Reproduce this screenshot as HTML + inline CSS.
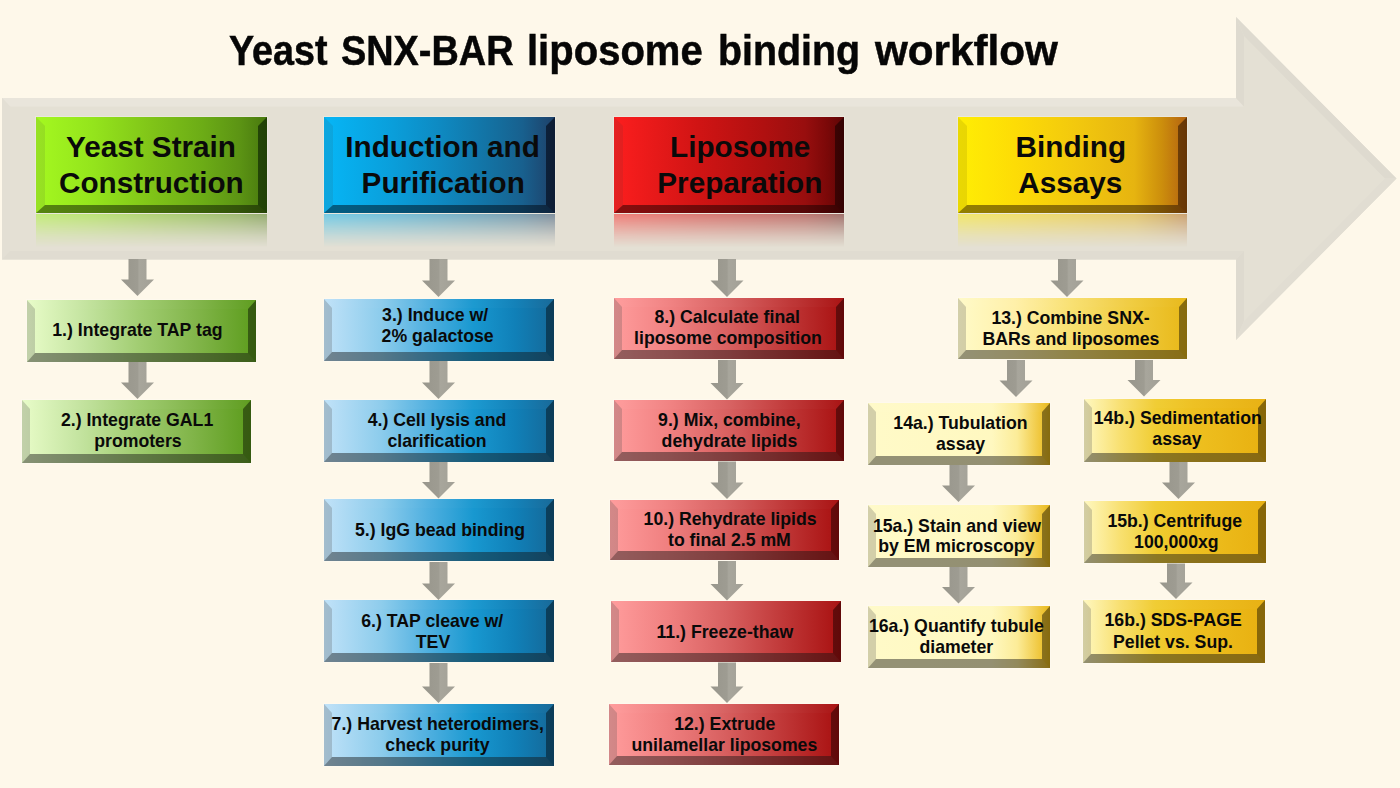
<!DOCTYPE html>
<html><head><meta charset="utf-8"><title>Yeast SNX-BAR liposome binding workflow</title>
<style>
*{margin:0;padding:0;box-sizing:border-box}
html,body{width:1400px;height:788px;overflow:hidden;background:#FEF8EA}
body{position:relative;font-family:"Liberation Sans",sans-serif;}
.title{position:absolute;white-space:nowrap;font-family:"Liberation Sans",sans-serif;font-weight:bold;color:#060606;-webkit-text-stroke:0.5px #060606;transform-origin:0 0}
.box{position:absolute;border-style:solid;background-origin:border-box;background-clip:border-box;box-shadow:0 0 0 1px rgba(255,255,255,0.22)}
.tl{position:absolute;font-weight:bold;color:#0a0a0a;white-space:nowrap}
.refl{position:absolute;-webkit-mask-image:linear-gradient(to bottom,rgba(0,0,0,0.5),rgba(0,0,0,0.3) 35%,rgba(0,0,0,0.13) 68%,rgba(0,0,0,0) 100%);mask-image:linear-gradient(to bottom,rgba(0,0,0,0.5),rgba(0,0,0,0.3) 35%,rgba(0,0,0,0.13) 68%,rgba(0,0,0,0) 100%)}
svg{position:absolute;left:0;top:0}
</style></head><body>
<svg width="1400" height="788" viewBox="0 0 1400 788">
<polygon points="2,98 1236,98 1236,17 1396.5,178.5 1236,340 1236,259.5 2,259.5" fill="#E4E0D4"/>
<polygon points="2,98 1236,98 1244,106.5 10,106.5" fill="#E9E5DB"/>
<polygon points="2,98 10,106.5 10,251 2,259.5" fill="#E3DFD4"/>
<polygon points="2,259.5 10,251 1244,251 1236,259.5" fill="#E0DCD1"/>
<polygon points="1236,17 1244,36 1244,106.5 1236,98" fill="#DEDACF"/>
<polygon points="1236,17 1396.5,178.5 1385,178.5 1244,36" fill="#DEDACF"/>
<polygon points="1236,259.5 1244,251 1244,321 1236,340" fill="#DEDACF"/>
<polygon points="1236,340 1244,321 1385,178.5 1396.5,178.5" fill="#E1DDD2"/>
</svg>
<div class="title" style="font-size:42.5px;line-height:50px;left:228.80px;top:26px;transform:scaleX(0.8872)">Yeast</div>
<div class="title" style="font-size:42.5px;line-height:50px;left:341.30px;top:26px;transform:scaleX(0.8911)">SNX-BAR</div>
<div class="title" style="font-size:42.5px;line-height:50px;left:527.40px;top:26px;transform:scaleX(0.9417)">liposome</div>
<div class="title" style="font-size:42.5px;line-height:50px;left:718.10px;top:26px;transform:scaleX(0.9262)">binding</div>
<div class="title" style="font-size:42.5px;line-height:50px;left:875.41px;top:26px;transform:scaleX(0.9932)">workflow</div>
<div class="refl" style="left:36px;top:214px;width:230.5px;height:33px;background:linear-gradient(to right,#A4F820 0%, #94E41C 25%, #80C418 50%, #6CAC16 72%, #5C9414 88%, #48780E 100%)"></div>
<div class="box" style="left:36px;top:117px;width:230.50px;height:96.00px;border-width:9px 9px 8px 9px;border-color:rgba(255,255,255,0.0) rgba(0,20,0,0.55) rgba(10,20,0,0.5) rgba(60,60,60,0.12);background-image:linear-gradient(to right,#A4F820 0%, #94E41C 25%, #80C418 50%, #6CAC16 72%, #5C9414 88%, #48780E 100%)"></div>
<div class="refl" style="left:324px;top:214px;width:231px;height:33px;background:linear-gradient(to right,#06B6F6 0%, #0A9EDA 30%, #0E8AC2 50%, #146E9E 75%, #18608E 86%, #1E4068 100%)"></div>
<div class="box" style="left:324px;top:117px;width:231.00px;height:96.00px;border-width:9px 9px 8px 9px;border-color:rgba(255,255,255,0.0) rgba(0,0,10,0.55) rgba(0,10,20,0.5) rgba(60,60,60,0.12);background-image:linear-gradient(to right,#06B6F6 0%, #0A9EDA 30%, #0E8AC2 50%, #146E9E 75%, #18608E 86%, #1E4068 100%)"></div>
<div class="refl" style="left:613.5px;top:214px;width:230.0px;height:33px;background:linear-gradient(to right,#FC1E1E 0%, #D01414 37%, #B01010 65%, #980E0E 83%, #7A0808 93%, #5C0606 100%)"></div>
<div class="box" style="left:613.5px;top:117px;width:230.00px;height:96.00px;border-width:9px 9px 8px 9px;border-color:rgba(255,255,255,0.0) rgba(20,0,0,0.55) rgba(20,0,0,0.5) rgba(60,60,60,0.12);background-image:linear-gradient(to right,#FC1E1E 0%, #D01414 37%, #B01010 65%, #980E0E 83%, #7A0808 93%, #5C0606 100%)"></div>
<div class="refl" style="left:958px;top:214px;width:229px;height:33px;background:linear-gradient(to right,#FFEE04 0%, #FDDC06 25%, #F2C80E 52%, #E6B410 77%, #CC8E0C 89%, #B86A10 98%, #B06410 100%)"></div>
<div class="box" style="left:958px;top:117px;width:229.00px;height:96.00px;border-width:9px 9px 8px 9px;border-color:rgba(255,255,255,0.0) rgba(30,10,0,0.5) rgba(40,20,0,0.5) rgba(80,60,0,0.12);background-image:linear-gradient(to right,#FFEE04 0%, #FDDC06 25%, #F2C80E 52%, #E6B410 77%, #CC8E0C 89%, #B86A10 98%, #B06410 100%)"></div>
<div class="box" style="left:27px;top:299.5px;width:229.00px;height:62.00px;border-width:9px 8px 9px 8px;border-color:rgba(255,255,255,0.02) rgba(0,0,0,0.42) rgba(20,20,20,0.45) rgba(80,80,80,0.25);background-image:linear-gradient(to right,#E8FCC8 0%, #C4E4A0 25%, #A0CC70 50%, #80B448 75%, #5C9C1C 100%)"></div>
<div class="box" style="left:21.5px;top:400px;width:229.50px;height:63.00px;border-width:9px 8px 9px 8px;border-color:rgba(255,255,255,0.02) rgba(0,0,0,0.42) rgba(20,20,20,0.45) rgba(80,80,80,0.25);background-image:linear-gradient(to right,#E8FCC8 0%, #C4E4A0 25%, #A0CC70 50%, #80B448 75%, #5C9C1C 100%)"></div>
<div class="box" style="left:324px;top:299.3px;width:229.50px;height:61.40px;border-width:9px 8px 9px 8px;border-color:rgba(255,255,255,0.02) rgba(0,0,0,0.42) rgba(20,20,20,0.45) rgba(80,80,80,0.25);background-image:linear-gradient(to right,#C0E2F8 0%, #8CCCEC 25%, #50B0E0 45%, #1898D0 65%, #1080B8 83%, #156898 100%)"></div>
<div class="box" style="left:324px;top:400px;width:229.50px;height:61.50px;border-width:9px 8px 9px 8px;border-color:rgba(255,255,255,0.02) rgba(0,0,0,0.42) rgba(20,20,20,0.45) rgba(80,80,80,0.25);background-image:linear-gradient(to right,#C0E2F8 0%, #8CCCEC 25%, #50B0E0 45%, #1898D0 65%, #1080B8 83%, #156898 100%)"></div>
<div class="box" style="left:324px;top:498.7px;width:229.50px;height:62.50px;border-width:9px 8px 9px 8px;border-color:rgba(255,255,255,0.02) rgba(0,0,0,0.42) rgba(20,20,20,0.45) rgba(80,80,80,0.25);background-image:linear-gradient(to right,#C0E2F8 0%, #8CCCEC 25%, #50B0E0 45%, #1898D0 65%, #1080B8 83%, #156898 100%)"></div>
<div class="box" style="left:324px;top:600.3px;width:229.50px;height:62.20px;border-width:9px 8px 9px 8px;border-color:rgba(255,255,255,0.02) rgba(0,0,0,0.42) rgba(20,20,20,0.45) rgba(80,80,80,0.25);background-image:linear-gradient(to right,#C0E2F8 0%, #8CCCEC 25%, #50B0E0 45%, #1898D0 65%, #1080B8 83%, #156898 100%)"></div>
<div class="box" style="left:324px;top:703.6px;width:229.50px;height:62.70px;border-width:9px 8px 9px 8px;border-color:rgba(255,255,255,0.02) rgba(0,0,0,0.42) rgba(20,20,20,0.45) rgba(80,80,80,0.25);background-image:linear-gradient(to right,#C0E2F8 0%, #8CCCEC 25%, #50B0E0 45%, #1898D0 65%, #1080B8 83%, #156898 100%)"></div>
<div class="box" style="left:614px;top:297.5px;width:229.50px;height:61.80px;border-width:9px 8px 9px 8px;border-color:rgba(255,255,255,0.02) rgba(0,0,0,0.42) rgba(20,20,20,0.45) rgba(80,80,80,0.25);background-image:linear-gradient(to right,#FF9C9C 0%, #F08080 25%, #D86060 50%, #C03838 75%, #A81010 100%)"></div>
<div class="box" style="left:614px;top:399.9px;width:229.50px;height:61.40px;border-width:9px 8px 9px 8px;border-color:rgba(255,255,255,0.02) rgba(0,0,0,0.42) rgba(20,20,20,0.45) rgba(80,80,80,0.25);background-image:linear-gradient(to right,#FF9C9C 0%, #F08080 25%, #D86060 50%, #C03838 75%, #A81010 100%)"></div>
<div class="box" style="left:609.5px;top:499.8px;width:229.00px;height:60.70px;border-width:9px 8px 9px 8px;border-color:rgba(255,255,255,0.02) rgba(0,0,0,0.42) rgba(20,20,20,0.45) rgba(80,80,80,0.25);background-image:linear-gradient(to right,#FF9C9C 0%, #F08080 25%, #D86060 50%, #C03838 75%, #A81010 100%)"></div>
<div class="box" style="left:611px;top:601.2px;width:229.50px;height:61.30px;border-width:9px 8px 9px 8px;border-color:rgba(255,255,255,0.02) rgba(0,0,0,0.42) rgba(20,20,20,0.45) rgba(80,80,80,0.25);background-image:linear-gradient(to right,#FF9C9C 0%, #F08080 25%, #D86060 50%, #C03838 75%, #A81010 100%)"></div>
<div class="box" style="left:609px;top:703.6px;width:229.50px;height:61.20px;border-width:9px 8px 9px 8px;border-color:rgba(255,255,255,0.02) rgba(0,0,0,0.42) rgba(20,20,20,0.45) rgba(80,80,80,0.25);background-image:linear-gradient(to right,#FF9C9C 0%, #F08080 25%, #D86060 50%, #C03838 75%, #A81010 100%)"></div>
<div class="box" style="left:957.5px;top:297.6px;width:229.00px;height:61.80px;border-width:9px 8px 9px 8px;border-color:rgba(255,255,255,0.02) rgba(0,0,0,0.42) rgba(20,20,20,0.45) rgba(80,80,80,0.25);background-image:linear-gradient(to right,#FFFAC8 0%, #FFF0A8 25%, #F8E070 50%, #F0CC40 75%, #E8B818 100%)"></div>
<div class="box" style="left:868px;top:403.1px;width:181.50px;height:62.10px;border-width:9px 8px 9px 8px;border-color:rgba(255,255,255,0.02) rgba(0,0,0,0.42) rgba(20,20,20,0.45) rgba(80,80,80,0.25);background-image:linear-gradient(to right,#FFFAC8 0%, #FFF8C0 68%, #FCEC98 82%, #F0C840 94%, #E8B818 100%)"></div>
<div class="box" style="left:1084.2px;top:398.7px;width:182.30px;height:62.90px;border-width:9px 8px 9px 8px;border-color:rgba(255,255,255,0.02) rgba(0,0,0,0.42) rgba(20,20,20,0.45) rgba(80,80,80,0.25);background-image:linear-gradient(to right,#FFF8C0 0%, #F8E070 20%, #F0CC30 40%, #EEC020 60%, #E8B010 100%)"></div>
<div class="box" style="left:868px;top:505.4px;width:182.00px;height:61.40px;border-width:9px 8px 9px 8px;border-color:rgba(255,255,255,0.02) rgba(0,0,0,0.42) rgba(20,20,20,0.45) rgba(80,80,80,0.25);background-image:linear-gradient(to right,#FFFAC8 0%, #FFF8C0 68%, #FCEC98 82%, #F0C840 94%, #E8B818 100%)"></div>
<div class="box" style="left:1084.2px;top:500.9px;width:182.30px;height:62.50px;border-width:9px 8px 9px 8px;border-color:rgba(255,255,255,0.02) rgba(0,0,0,0.42) rgba(20,20,20,0.45) rgba(80,80,80,0.25);background-image:linear-gradient(to right,#FFF8C0 0%, #F8E070 20%, #F0CC30 40%, #EEC020 60%, #E8B010 100%)"></div>
<div class="box" style="left:868px;top:605.9px;width:182.00px;height:62.50px;border-width:9px 8px 9px 8px;border-color:rgba(255,255,255,0.02) rgba(0,0,0,0.42) rgba(20,20,20,0.45) rgba(80,80,80,0.25);background-image:linear-gradient(to right,#FFFAC8 0%, #FFF8C0 68%, #FCEC98 82%, #F0C840 94%, #E8B818 100%)"></div>
<div class="box" style="left:1082.5px;top:600px;width:182.00px;height:62.50px;border-width:9px 8px 9px 8px;border-color:rgba(255,255,255,0.02) rgba(0,0,0,0.42) rgba(20,20,20,0.45) rgba(80,80,80,0.25);background-image:linear-gradient(to right,#FFF8C0 0%, #F8E070 20%, #F0CC30 40%, #EEC020 60%, #E8B010 100%)"></div>
<svg width="1400" height="788" viewBox="0 0 1400 788">
<defs><linearGradient id="ag" x1="0" x2="1" y1="0" y2="0"><stop offset="0" stop-color="#98968C"/><stop offset="0.5" stop-color="#9E9C92"/><stop offset="0.55" stop-color="#A8A69C"/><stop offset="1" stop-color="#A2A096"/></linearGradient></defs>
<polygon points="128.5,259 146.5,259 146.5,279.5 154.0,279.5 137.5,296 121.0,279.5 128.5,279.5" fill="url(#ag)"/>
<polygon points="128.5,362 146.5,362 146.5,382.5 154.0,382.5 137.5,399 121.0,382.5 128.5,382.5" fill="url(#ag)"/>
<polygon points="429.5,259 447.5,259 447.5,280.5 455.0,280.5 438.5,297 422.0,280.5 429.5,280.5" fill="url(#ag)"/>
<polygon points="429.5,361 447.5,361 447.5,382.5 455.0,382.5 438.5,399 422.0,382.5 429.5,382.5" fill="url(#ag)"/>
<polygon points="429.5,462 447.5,462 447.5,482.0 455.0,482.0 438.5,498.5 422.0,482.0 429.5,482.0" fill="url(#ag)"/>
<polygon points="429.5,562 447.5,562 447.5,583.5 455.0,583.5 438.5,600 422.0,583.5 429.5,583.5" fill="url(#ag)"/>
<polygon points="429.5,663 447.5,663 447.5,686.5 455.0,686.5 438.5,703 422.0,686.5 429.5,686.5" fill="url(#ag)"/>
<polygon points="718,259 736,259 736,280.5 743.5,280.5 727,297 710.5,280.5 718,280.5" fill="url(#ag)"/>
<polygon points="718,360 736,360 736,383.0 743.5,383.0 727,399.5 710.5,383.0 718,383.0" fill="url(#ag)"/>
<polygon points="718,461.5 736,461.5 736,482.5 743.5,482.5 727,499 710.5,482.5 718,482.5" fill="url(#ag)"/>
<polygon points="718,561 736,561 736,584.0 743.5,584.0 727,600.5 710.5,584.0 718,584.0" fill="url(#ag)"/>
<polygon points="718,662.5 736,662.5 736,686.5 743.5,686.5 727,703 710.5,686.5 718,686.5" fill="url(#ag)"/>
<polygon points="1058,259 1076,259 1076,280.5 1083.5,280.5 1067,297 1050.5,280.5 1058,280.5" fill="url(#ag)"/>
<polygon points="1007,360 1025,360 1025,380.5 1032.5,380.5 1016,397 999.5,380.5 1007,380.5" fill="url(#ag)"/>
<polygon points="1135,360 1153,360 1153,380.0 1160.5,380.0 1144,396.5 1127.5,380.0 1135,380.0" fill="url(#ag)"/>
<polygon points="949.5,465 967.5,465 967.5,485.5 975.0,485.5 958.5,502 942.0,485.5 949.5,485.5" fill="url(#ag)"/>
<polygon points="949.5,567 967.5,567 967.5,587.0 975.0,587.0 958.5,603.5 942.0,587.0 949.5,587.0" fill="url(#ag)"/>
<polygon points="1169.5,462 1187.5,462 1187.5,482.5 1195.0,482.5 1178.5,499 1162.0,482.5 1169.5,482.5" fill="url(#ag)"/>
<polygon points="1167,563.5 1185,563.5 1185,582.5 1192.5,582.5 1176,599 1159.5,582.5 1167,582.5" fill="url(#ag)"/>
</svg>
<div class="tl" style="left:66.00px;top:129.00px;font-size:29.7px;line-height:36px">Yeast Strain</div>
<div class="tl" style="left:59.00px;top:165.00px;font-size:29.7px;line-height:36px">Construction</div>
<div class="tl" style="left:345.30px;top:129.00px;font-size:29.7px;line-height:36px">Induction and</div>
<div class="tl" style="left:361.60px;top:165.00px;font-size:29.7px;line-height:36px">Purification</div>
<div class="tl" style="left:670.10px;top:129.00px;font-size:29.7px;line-height:36px">Liposome</div>
<div class="tl" style="left:657.30px;top:165.00px;font-size:29.7px;line-height:36px">Preparation</div>
<div class="tl" style="left:1015.60px;top:129.00px;font-size:29.7px;line-height:36px">Binding</div>
<div class="tl" style="left:1018.30px;top:165.00px;font-size:29.7px;line-height:36px">Assays</div>
<div class="tl" style="left:52.20px;top:320.00px;font-size:17.7px;line-height:21.0px">1.) Integrate TAP tag</div>
<div class="tl" style="left:60.90px;top:410.00px;font-size:17.7px;line-height:21.0px">2.) Integrate GAL1</div>
<div class="tl" style="left:94.20px;top:431.00px;font-size:17.7px;line-height:21.0px">promoters</div>
<div class="tl" style="left:382.10px;top:305.00px;font-size:17.7px;line-height:21.0px">3.) Induce w/</div>
<div class="tl" style="left:381.60px;top:326.00px;font-size:17.7px;line-height:21.0px">2% galactose</div>
<div class="tl" style="left:367.70px;top:410.00px;font-size:17.7px;line-height:21.0px">4.) Cell lysis and</div>
<div class="tl" style="left:387.40px;top:431.00px;font-size:17.7px;line-height:21.0px">clarification</div>
<div class="tl" style="left:355.00px;top:520.00px;font-size:17.7px;line-height:21.0px">5.) IgG bead binding</div>
<div class="tl" style="left:361.20px;top:611.00px;font-size:17.7px;line-height:21.0px">6.) TAP cleave w/</div>
<div class="tl" style="left:415.80px;top:632.00px;font-size:17.7px;line-height:21.0px">TEV</div>
<div class="tl" style="left:331.60px;top:714.00px;font-size:17.7px;line-height:21.0px">7.) Harvest heterodimers,</div>
<div class="tl" style="left:385.30px;top:735.00px;font-size:17.7px;line-height:21.0px">check purity</div>
<div class="tl" style="left:654.50px;top:307.00px;font-size:17.7px;line-height:21.0px">8.) Calculate final</div>
<div class="tl" style="left:634.10px;top:328.00px;font-size:17.7px;line-height:21.0px">liposome composition</div>
<div class="tl" style="left:658.10px;top:410.00px;font-size:17.7px;line-height:21.0px">9.) Mix, combine,</div>
<div class="tl" style="left:661.60px;top:431.00px;font-size:17.7px;line-height:21.0px">dehydrate lipids</div>
<div class="tl" style="left:643.60px;top:509.00px;font-size:17.7px;line-height:21.0px">10.) Rehydrate lipids</div>
<div class="tl" style="left:668.00px;top:530.00px;font-size:17.7px;line-height:21.0px">to final 2.5 mM</div>
<div class="tl" style="left:656.50px;top:622.00px;font-size:17.7px;line-height:21.0px">11.) Freeze-thaw</div>
<div class="tl" style="left:674.20px;top:714.00px;font-size:17.7px;line-height:21.0px">12.) Extrude</div>
<div class="tl" style="left:631.50px;top:735.00px;font-size:17.7px;line-height:21.0px">unilamellar liposomes</div>
<div class="tl" style="left:991.40px;top:308.00px;font-size:17.7px;line-height:21.0px">13.) Combine SNX-</div>
<div class="tl" style="left:982.50px;top:329.00px;font-size:17.7px;line-height:21.0px">BARs and liposomes</div>
<div class="tl" style="left:893.30px;top:413.00px;font-size:17.7px;line-height:21.0px">14a.) Tubulation</div>
<div class="tl" style="left:936.00px;top:434.00px;font-size:17.7px;line-height:21.0px">assay</div>
<div class="tl" style="left:1093.70px;top:408.00px;font-size:17.7px;line-height:21.0px">14b.) Sedimentation</div>
<div class="tl" style="left:1152.30px;top:429.00px;font-size:17.7px;line-height:21.0px">assay</div>
<div class="tl" style="left:872.90px;top:516.00px;font-size:17.7px;line-height:21.0px">15a.) Stain and view</div>
<div class="tl" style="left:878.20px;top:536.00px;font-size:17.7px;line-height:21.0px">by EM microscopy</div>
<div class="tl" style="left:1107.40px;top:511.00px;font-size:17.7px;line-height:21.0px">15b.) Centrifuge</div>
<div class="tl" style="left:1134.10px;top:532.00px;font-size:17.7px;line-height:21.0px">100,000xg</div>
<div class="tl" style="left:868.90px;top:616.00px;font-size:17.7px;line-height:21.0px">16a.) Quantify tubule</div>
<div class="tl" style="left:919.50px;top:637.00px;font-size:17.7px;line-height:21.0px">diameter</div>
<div class="tl" style="left:1104.50px;top:610.00px;font-size:17.7px;line-height:21.0px">16b.) SDS-PAGE</div>
<div class="tl" style="left:1113.00px;top:632.00px;font-size:17.7px;line-height:21.0px">Pellet vs. Sup.</div>
</body></html>
